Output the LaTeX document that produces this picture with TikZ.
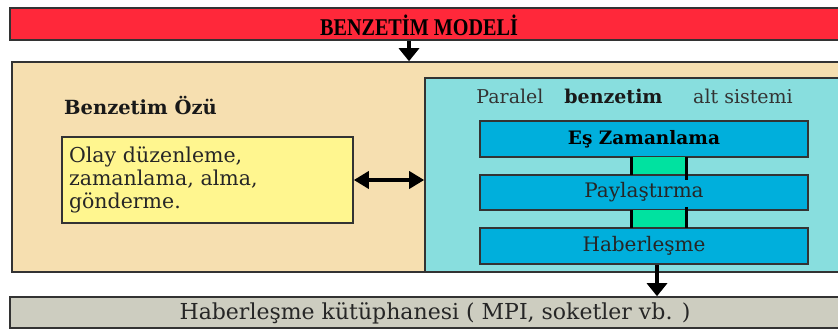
\documentclass[tikz,border=0pt]{standalone}
\usepackage{fontspec}
\setmainfont{DejaVu Serif}
\newfontfamily\titlefont{Liberation Serif}
\usetikzlibrary{arrows.meta}

\definecolor{modelred}{RGB}{255,40,58}
\definecolor{coretan}{RGB}{246,223,176}
\definecolor{parcyan}{RGB}{136,222,222}
\definecolor{olayyellow}{RGB}{255,246,143}
\definecolor{layerblue}{RGB}{0,175,220}
\definecolor{linkgreen}{RGB}{0,226,160}
\definecolor{libgray}{RGB}{205,205,192}

\begin{document}
\begin{tikzpicture}[x=1pt, y=-1pt,
  box/.style={draw=black!80, line width=1.6pt, inner sep=0pt},
  layer/.style={box, fill=layerblue, minimum width=328pt, minimum height=36pt, text=black!85, font=\fontsize{20}{22}\selectfont},
  link/.style={fill=linkgreen, minimum width=54pt, minimum height=18pt, inner sep=0pt},
  partext/.style={text=black!80, inner sep=0pt, font=\fontsize{19}{22}\selectfont},
  arr/.style={line width=4pt, -{Triangle[length=13pt,width=20pt]}},
  dbl/.style={line width=3.5pt, {Triangle[length=15pt,width=17pt]}-{Triangle[length=15pt,width=17pt]}}]
\clip (0,0) rectangle (838,332);

\node[box, fill=modelred, minimum width=835pt, minimum height=32pt] (model) at (427.5,24) {};
\node[font=\titlefont\bfseries\fontsize{24}{26}\selectfont, xscale=0.84] (modeltxt) at (419,25) {BENZETİM MODELİ};

\node[box, fill=coretan, minimum width=833pt, minimum height=210pt] (core) at (428.5,167) {};
\node[box, fill=parcyan, minimum width=420pt, minimum height=194pt] (par) at (635,175) {};

\node[anchor=west, inner sep=0pt, text=black!90, font=\bfseries\fontsize{19.5}{22}\selectfont] (coretitle) at (64,105) {Benzetim Özü};
\node[box, fill=olayyellow, minimum width=291pt, minimum height=86pt, text width=277pt, align=left,
  text=black!85, font=\fontsize{20.5}{23}\selectfont] (olay) at (207.5,180) {Olay düzenleme,\\zamanlama, alma,\\gönderme.};

\node[partext] (paralel) at (510,96) {Paralel};
\node[partext, font=\bfseries\fontsize{19}{22}\selectfont, text=black!90] (benzetim) at (613.5,96) {benzetim};
\node[partext] (altsis) at (743,96) {alt sistemi};
\node[layer, text=black, font=\bfseries\fontsize{18.5}{20}\selectfont] (es) at (644,139) {Eş Zamanlama};
\node[link] (g1) at (659,166) {};
\node[layer, minimum height=35pt] (pay) at (644,192.5) {Paylaştırma};
\node[link] (g2) at (659,219) {};
\node[layer] (hab) at (644,246) {Haberleşme};

\node[box, fill=libgray, minimum width=835pt, minimum height=31pt] (lib) at (427.5,312.5) {};
\node[text=black!85, font=\fontsize{22}{24}\selectfont] (libtxt) at (435,313) {Haberleşme kütüphanesi ( MPI, soketler vb. )};

\draw[line width=3pt] (g1.north west) -- (g1.south west);
\draw[line width=3pt] (g1.north east) -- ([yshift=-5pt]g1.south east);
\draw[line width=3pt] (g2.north west) -- (g2.south west);
\draw[line width=3pt] ([yshift=3pt]g2.north east) -- (g2.south east);

\coordinate (drop) at (409,0);
\draw[arr] (model.south -| drop) -- (core.north -| drop);
\draw[arr] ([xshift=13pt]hab.south) -- ([xshift=13pt]hab.south |- lib.north);
\draw[dbl] (olay.east) -- (olay.east -| par.west);
\end{tikzpicture}
\end{document}
